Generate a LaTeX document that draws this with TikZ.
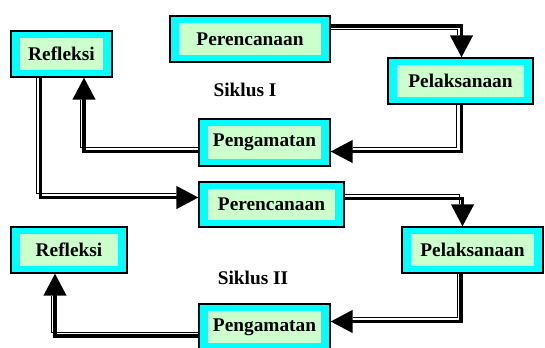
\documentclass[tikz,border=0pt]{standalone}
\usepackage{fontspec}
\setmainfont{Liberation Serif}
\usepackage{xcolor}
\definecolor{boxcyan}{RGB}{0,255,255}
\definecolor{boxgreen}{RGB}{204,255,204}
\usepackage{tikz}
\usetikzlibrary{arrows.meta, positioning}
\newcommand{\pxlen}{0.75pt}

\begin{document}
\begin{tikzpicture}[x=0.75pt, y=-0.75pt,
  outerbox/.style={draw=black, line width=0.8pt, fill=boxcyan, inner sep=0pt},
  innerbox/.style={fill=boxgreen, inner sep=0pt, font=\fontsize{14.5}{17}\selectfont\bfseries},
  flow/.style={line width=2.9pt, -{Triangle[length=16.5pt, width=16.5pt]}},
  flowthin/.style={line width=0.75pt, shorten >=16.5pt},
  cyclelbl/.style={font=\fontsize{14.5}{17}\selectfont\bfseries}]
  \useasboundingbox (0,0) rectangle (545,347);
  \clip (0,0) rectangle (545,347);

  % --- Siklus I boxes ---
  \node[outerbox, minimum width={101*\pxlen}, minimum height={46*\pxlen}] (ref1) at (61.5,54) {};
  \node[innerbox, minimum width={83*\pxlen}, minimum height={32*\pxlen}] (ref1t) at (ref1) {Refleksi};
  \node[outerbox, minimum width={160*\pxlen}, minimum height={46*\pxlen}] (per1) at (250,39) {};
  \node[innerbox, minimum width={142*\pxlen}, minimum height={32*\pxlen}] (per1t) at (per1) {Perencanaan};
  \node[outerbox, minimum width={145*\pxlen}, minimum height={46*\pxlen}] (pel1) at (460.5,81) {};
  \node[innerbox, minimum width={127*\pxlen}, minimum height={32*\pxlen}] (pel1t) at (pel1) {Pelaksanaan};
  \node[outerbox, minimum width={131*\pxlen}, minimum height={47*\pxlen}] (pen1) at (264.5,142.5) {};
  \node[innerbox, minimum width={113*\pxlen}, minimum height={33*\pxlen}] (pen1t) at (pen1) {Pengamatan};
  \node[cyclelbl] (sik1) at (245,90) {Siklus I};

  % --- Siklus II boxes ---
  \node[outerbox, minimum width={145*\pxlen}, minimum height={45*\pxlen}] (per2) at (271.5,204.5) {};
  \node[innerbox, minimum width={127*\pxlen}, minimum height={31*\pxlen}] (per2t) at (per2) {Perencanaan};
  \node[outerbox, minimum width={141*\pxlen}, minimum height={46*\pxlen}] (pel2) at (472.5,250) {};
  \node[innerbox, minimum width={123*\pxlen}, minimum height={32*\pxlen}] (pel2t) at (pel2) {Pelaksanaan};
  \node[outerbox, minimum width={116*\pxlen}, minimum height={46*\pxlen}] (ref2) at (69,250) {};
  \node[innerbox, minimum width={98*\pxlen}, minimum height={32*\pxlen}] (ref2t) at (ref2) {Refleksi};
  \node[outerbox, minimum width={131*\pxlen}, minimum height={46*\pxlen}] (pen2) at (264.5,327) {};
  \node[innerbox, minimum width={113*\pxlen}, minimum height={32*\pxlen}] (pen2t) at (pen2) {Pengamatan};
  \node[cyclelbl] (sik2) at (253,278) {Siklus II};

  % --- thin companion lines ---
  \draw[flowthin] ([shift={(0,-9.5)}]per1.east) -| ([shift={(-3.5,0)}]pel1.north);
  \draw[flowthin] ([shift={(-4,0)}]pel1.south) |- ([shift={(0,5)}]pen1.east);
  \draw[flowthin] ([shift={(0,5)}]pen1.west) -| ([shift={(18.5,0)}]ref1.south);
  \draw[flowthin] ([shift={(-25,0)}]ref1.south) |- ([shift={(0,-11)}]per2.west);
  \draw[flowthin] ([shift={(0,-10)}]per2.east) -| ([shift={(-13.5,0)}]pel2.north);
  \draw[flowthin] ([shift={(-15.5,0)}]pel2.south) |- ([shift={(0,-9.5)}]pen2.east);
  \draw[flowthin] ([shift={(0,5.5)}]pen2.west) -| ([shift={(-18,0)}]ref2.south);

  % --- thick arrows ---
  \draw[flow] ([shift={(0,-13)}]per1.east) -| ([shift={(1,0)}]pel1.north);
  \draw[flow] ([shift={(1,0)}]pel1.south) |- ([shift={(0,9)}]pen1.east);
  \draw[flow] ([shift={(0,9)}]pen1.west) -| ([shift={(22.5,0)}]ref1.south);
  \draw[flow] ([shift={(-21,0)}]ref1.south) |- ([shift={(0,-7)}]per2.west);
  \draw[flow] ([shift={(0,-6)}]per2.east) -| ([shift={(-10,0)}]pel2.north);
  \draw[flow] ([shift={(-11.5,0)}]pel2.south) |- ([shift={(0,-5.5)}]pen2.east);
  \draw[flow] ([shift={(0,9)}]pen2.west) -| ([shift={(-14,0)}]ref2.south);
\end{tikzpicture}
\end{document}
